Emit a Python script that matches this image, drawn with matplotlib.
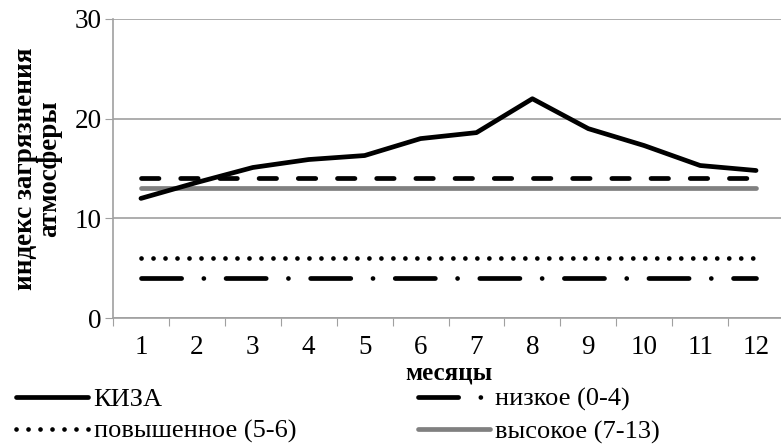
import numpy as np
import matplotlib.pyplot as plt

plt.rcParams['font.family'] = ['Liberation Serif', 'DejaVu Serif']

months = np.arange(1, 13)
month_labels = [str(m) for m in months]
kiza = [12.0, 13.6, 15.1, 15.9, 16.3, 18.0, 18.6, 22.0, 19.0, 17.3, 15.3, 14.8]
very_high = [14] * 12
high = [13] * 12
elevated = [6] * 12
low = [4] * 12

fig = plt.figure(figsize=(7.81, 4.44), dpi=100)
ax = fig.add_axes([113 / 781, 1 - 318 / 444, (784 - 113) / 781, (318 - 19) / 444])

lw = 3.4
ax.plot(months, very_high, color='black', lw=lw, dashes=(3.7, 4.6),
        dash_capstyle='round', label='_nolegend_')
ax.plot(months, high, color='#808080', lw=lw, solid_capstyle='round', label='высокое (7-13)')
ax.plot(months, elevated, color='black', lw=lw, dashes=(0.01, 2.53),
        dash_capstyle='round', label='повышенное (5-6)')
ax.plot(months, low, color='black', lw=lw, dashes=(8.5, 4.7, 0.01, 4.7),
        dash_capstyle='round', label='низкое (0-4)')
ax.plot(months, kiza, color='black', lw=lw, solid_capstyle='round', label='КИЗА')

ax.set_xlim(0.5, 12.5)
ax.set_ylim(0, 30)
ax.set_yticks([0, 10, 20, 30])
ax.yaxis.grid(True, color='#A0A0A0', lw=1.2)
ax.set_axisbelow(True)
ax.tick_params(axis='y', labelsize=19.5, length=6, color='#A0A0A0', pad=2)

# ticks at category boundaries, labels at centres
ax.set_xticks(np.arange(0.5, 13, 1))
ax.set_xticklabels([])
ax.set_xticks(months, minor=True)
ax.set_xticklabels(month_labels, minor=True)
ax.tick_params(axis='x', which='major', length=6, color='#A0A0A0')
ax.tick_params(axis='x', which='minor', length=0, labelsize=19.5, pad=12)

for s in ['top', 'right']:
    ax.spines[s].set_visible(False)
for s in ['left', 'bottom']:
    ax.spines[s].set_color('#A0A0A0')
    ax.spines[s].set_linewidth(1.2)

ax.set_xlabel('месяцы', fontsize=18, fontweight='bold', labelpad=1)
ax.set_ylabel('индекс загрязнения\nатмосферы', fontsize=19.5, fontweight='bold',
              linespacing=0.95, labelpad=9)

h, l = ax.get_legend_handles_labels()
order = [l.index('КИЗА'), l.index('повышенное (5-6)'), l.index('низкое (0-4)'), l.index('высокое (7-13)')]
fig.legend([h[i] for i in order], [l[i] for i in order], ncol=2,
           loc='lower left', bbox_to_anchor=(0.0, -0.035), frameon=False,
           fontsize=19, handlelength=2.75, handletextpad=0.2,
           columnspacing=4.6, labelspacing=0.32, borderaxespad=0.2)

fig.savefig('out.png', dpi=100)
